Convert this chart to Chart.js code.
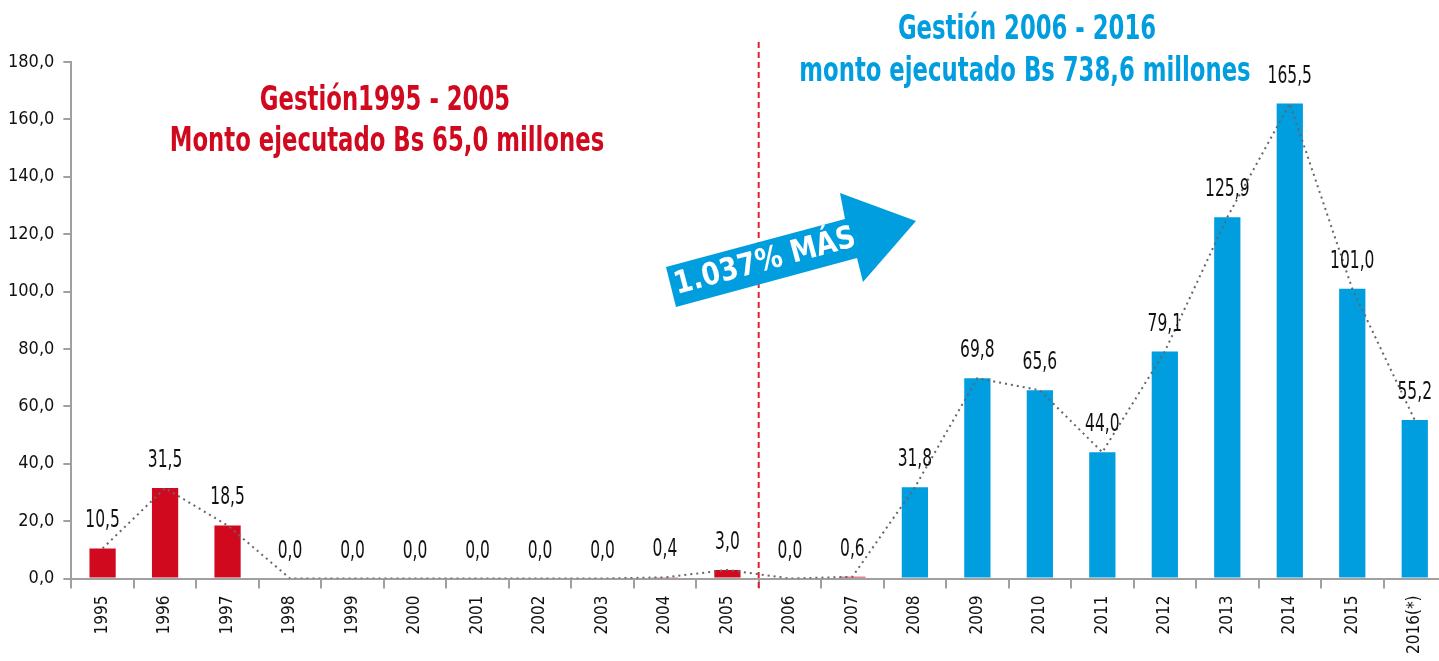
<!DOCTYPE html>
<html>
<head>
<meta charset="utf-8">
<script src="https://cdn.jsdelivr.net/npm/chart.js@4.4.0/dist/chart.umd.min.js"></script>
<style>
  html, body { margin: 0; padding: 0; background: #fff; overflow: hidden; }
  #wrap { width: 1446px; height: 661px; }
</style>
</head>
<body>
<div id="wrap"><canvas id="myChart" width="1446" height="661"></canvas></div>
<script>
// datos (millones de Bs)
const years = ["1995","1996","1997","1998","1999","2000","2001","2002","2003","2004","2005",
               "2006","2007","2008","2009","2010","2011","2012","2013","2014","2015","2016(*)"];
const montos = [10.5, 31.5, 18.5, 0.0, 0.0, 0.0, 0.0, 0.0, 0.0, 0.4, 3.0,
                0.0, 0.6, 31.8, 69.8, 65.6, 44.0, 79.1, 125.9, 165.5, 101.0, 55.2];
const yTicks = [0, 20, 40, 60, 80, 100, 120, 140, 160, 180];
const tituloRojo = ["Gestión1995 - 2005", "Monto ejecutado Bs 65,0 millones"];
const tituloAzul = ["Gestión 2006 - 2016", "monto ejecutado Bs 738,6 millones"];
const flecha = "1.037% MÁS";

const ROJO = "#d0091f";
const AZUL = "#009ddf";
const FONT = "'DejaVu Sans', sans-serif";

function fmt(v) {
  return v.toFixed(1).replace(".", ",");
}

// texto angosto (la fuente original es condensada)
function narrowText(ctx, text, x, y, sx) {
  ctx.save();
  ctx.translate(x, y);
  ctx.scale(sx, 1);
  ctx.fillText(text, 0, 0);
  ctx.restore();
}

// colores: hasta 2007 rojo, luego azul
const barColors = years.map((y, i) => i <= 12 ? ROJO : AZUL);

const decor = {
  id: "decor",
  afterDatasetsDraw(chart) {
    const ctx = chart.ctx;
    const x = chart.scales.x;
    const y = chart.scales.y;

    // etiquetas de valor
    const meta = chart.getDatasetMeta(0);
    ctx.save();
    ctx.fillStyle = "#111";
    ctx.font = "25px " + FONT;
    ctx.textAlign = "center";
    ctx.textBaseline = "alphabetic";
    meta.data.forEach((bar, i) => {
      narrowText(ctx, fmt(montos[i]), bar.x, bar.y - 21, 0.62);
    });
    ctx.restore();

    // linea divisoria 2005 / 2006
    const xs = (x.getPixelForValue(10) + x.getPixelForValue(11)) / 2;
    ctx.save();
    ctx.strokeStyle = "#e0202e";
    ctx.lineWidth = 2;
    ctx.setLineDash([6, 4]);
    ctx.beginPath();
    ctx.moveTo(xs, 42);
    ctx.lineTo(xs, y.bottom + 12);
    ctx.stroke();
    ctx.restore();

    // titulos
    ctx.save();
    ctx.font = "bold 33px " + FONT;
    ctx.textAlign = "center";
    ctx.textBaseline = "middle";
    ctx.fillStyle = ROJO;
    narrowText(ctx, tituloRojo[0], 385, 101, 0.69);
    narrowText(ctx, tituloRojo[1], 387, 142, 0.69);
    ctx.fillStyle = AZUL;
    narrowText(ctx, tituloAzul[0], 1027, 30, 0.69);
    narrowText(ctx, tituloAzul[1], 1025, 72, 0.69);
    ctx.restore();

    // flecha
    ctx.save();
    ctx.fillStyle = AZUL;
    ctx.beginPath();
    ctx.moveTo(666, 267);
    ctx.lineTo(845, 219);
    ctx.lineTo(840, 193);
    ctx.lineTo(916, 221);
    ctx.lineTo(863, 282);
    ctx.lineTo(857, 258);
    ctx.lineTo(676, 307);
    ctx.closePath();
    ctx.fill();
    ctx.translate(765, 262);
    ctx.rotate(-15 * Math.PI / 180);
    ctx.fillStyle = "#fff";
    ctx.font = "bold 31px " + FONT;
    ctx.textAlign = "center";
    ctx.textBaseline = "middle";
    narrowText(ctx, flecha, 0, 0, 0.86);
    ctx.restore();
  }
};

const ctx = document.getElementById("myChart").getContext("2d");
const myChart = new Chart(ctx, {
  type: "bar",
  data: {
    labels: years,
    datasets: [
      {
        type: "bar",
        data: montos,
        backgroundColor: barColors,
        barPercentage: 0.42,
        categoryPercentage: 1,
        order: 1
      },
      {
        type: "line",
        data: montos,
        borderColor: "#666",
        borderWidth: 2,
        borderDash: [2, 4],
        pointRadius: 0,
        fill: false,
        tension: 0,
        order: 0
      }
    ]
  },
  options: {
    responsive: false,
    animation: false,
    layout: { padding: { top: 62, left: -1, right: 0, bottom: 0 } },
    plugins: {
      legend: { display: false },
      tooltip: { enabled: false }
    },
    scales: {
      x: {
        offset: true,
        grid: {
          offset: true,
          drawOnChartArea: false,
          drawTicks: true,
          tickLength: 10,
          color: "#a0a0a0",
          lineWidth: 2
        },
        border: { color: "#a0a0a0", width: 2 },
        ticks: {
          minRotation: 90,
          maxRotation: 90,
          autoSkip: false,
          padding: 7,
          color: "#111",
          font: { family: FONT, size: 17, weight: "condensed" }
        }
      },
      y: {
        min: 0,
        max: 180,
        afterBuildTicks(axis) {
          axis.ticks = yTicks.map(v => ({ value: v }));
        },
        grid: {
          drawOnChartArea: false,
          drawTicks: true,
          tickLength: 8,
          color: "#a0a0a0",
          lineWidth: 2
        },
        border: { color: "#a0a0a0", width: 2 },
        ticks: {
          padding: 9,
          color: "#111",
          font: { family: FONT, size: 18, weight: "condensed" },
          callback: v => fmt(v)
        }
      }
    }
  },
  plugins: [decor]
});
</script>
</body>
</html>
